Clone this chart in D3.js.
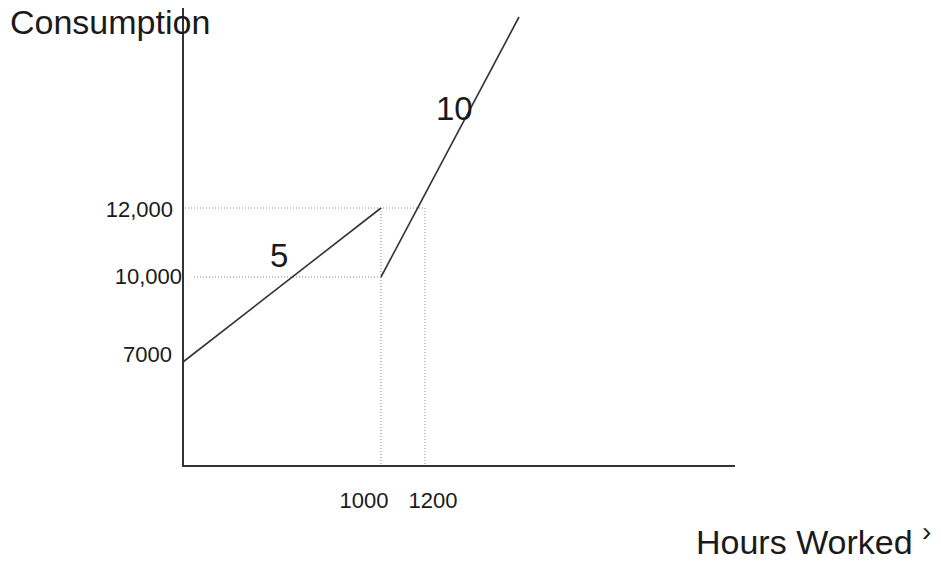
<!DOCTYPE html>
<html><head><meta charset="utf-8">
<script src="https://cdn.jsdelivr.net/npm/d3@7"></script>
<style>body{margin:0;background:#fff}svg{display:block}text{font-family:"Liberation Sans",Arial,sans-serif;fill:#1a1a1a}</style>
</head><body>
<script>
// Data
const hoursTicks = [1000, 1200];
const hoursTickLabels = ["1000", "1200"];
const consTicks = [12000, 10000, 7000];
const consTickLabels = ["12,000", "10,000", "7000"];
const segment1 = [[0, 7000], [1000, 12000]];   // slope 5
const segment2 = [[1000, 10000], [1500, 15000]]; // slope 10
const slopeLabels = ["5", "10"];
const xTitle = "Hours Worked";
const yTitle = "Consumption";

const W = 941, H = 566;
const svg = d3.select("body").append("svg").attr("width", W).attr("height", H);

// hand-drawn (non-uniform) axes -> piecewise linear scales
const x = d3.scaleLinear().domain([0, 1000, 1200, 1500, 2200]).range([183, 381, 425, 519, 735]);
const y = d3.scaleLinear().domain([0, 7000, 10000, 12000, 15000, 15500]).range([466, 362, 277, 208, 17, 8]);

// guide lines (dotted)
const g = svg.append("g").attr("stroke", "#8a8a8a").attr("stroke-width", 1).attr("stroke-dasharray", "1,2");
g.append("line").attr("x1", x(0) + 2).attr("x2", x(1200)).attr("y1", y(12000)).attr("y2", y(12000));
g.append("line").attr("x1", x(0) + 11).attr("x2", x(1000)).attr("y1", y(10000)).attr("y2", y(10000));
g.append("line").attr("x1", x(1000)).attr("x2", x(1000)).attr("y1", y(12000)).attr("y2", y(0));
g.append("line").attr("x1", x(1200)).attr("x2", x(1200)).attr("y1", y(12000)).attr("y2", y(0));

// axes
const ax = svg.append("g").attr("stroke", "#333").attr("stroke-width", 2).attr("fill", "none");
ax.append("path").attr("d", `M${x(0)},${y(15500)}V${y(0)}H${x(2200)}`);

// segments
const line = d3.line().x(d => x(d[0])).y(d => y(d[1]));
[segment1, segment2].forEach(s => svg.append("path").attr("d", line(s))
  .attr("fill", "none").attr("stroke", "#333").attr("stroke-width", 1.6));

// tick labels
const yOff = [9, 7, 0];
const xEnd = [-10, -1, -11];
consTicks.forEach((v, i) => svg.append("text").attr("x", x(0) + xEnd[i]).attr("y", y(v) + yOff[i])
  .attr("text-anchor", "end").attr("font-size", 22).text(consTickLabels[i]));
const xOff = [-17, 8];
hoursTicks.forEach((v, i) => svg.append("text").attr("x", x(v) + xOff[i]).attr("y", y(0) + 42)
  .attr("text-anchor", "middle").attr("font-size", 22).text(hoursTickLabels[i]));

// slope labels
svg.append("text").attr("x", x(440)).attr("y", y(10000) - 10).attr("font-size", 33).text(slopeLabels[0]);
svg.append("text").attr("x", x(1200) + 11).attr("y", y(13000) - 24).attr("font-size", 33).text(slopeLabels[1]);

// titles
svg.append("text").attr("x", 10).attr("y", 34).attr("font-size", 34).text(yTitle);
svg.append("text").attr("x", 696).attr("y", 554).attr("font-size", 34).text(xTitle);
svg.append("text").attr("x", 922).attr("y", 541).attr("font-size", 28).text("\u203A");
</script>
</body></html>
